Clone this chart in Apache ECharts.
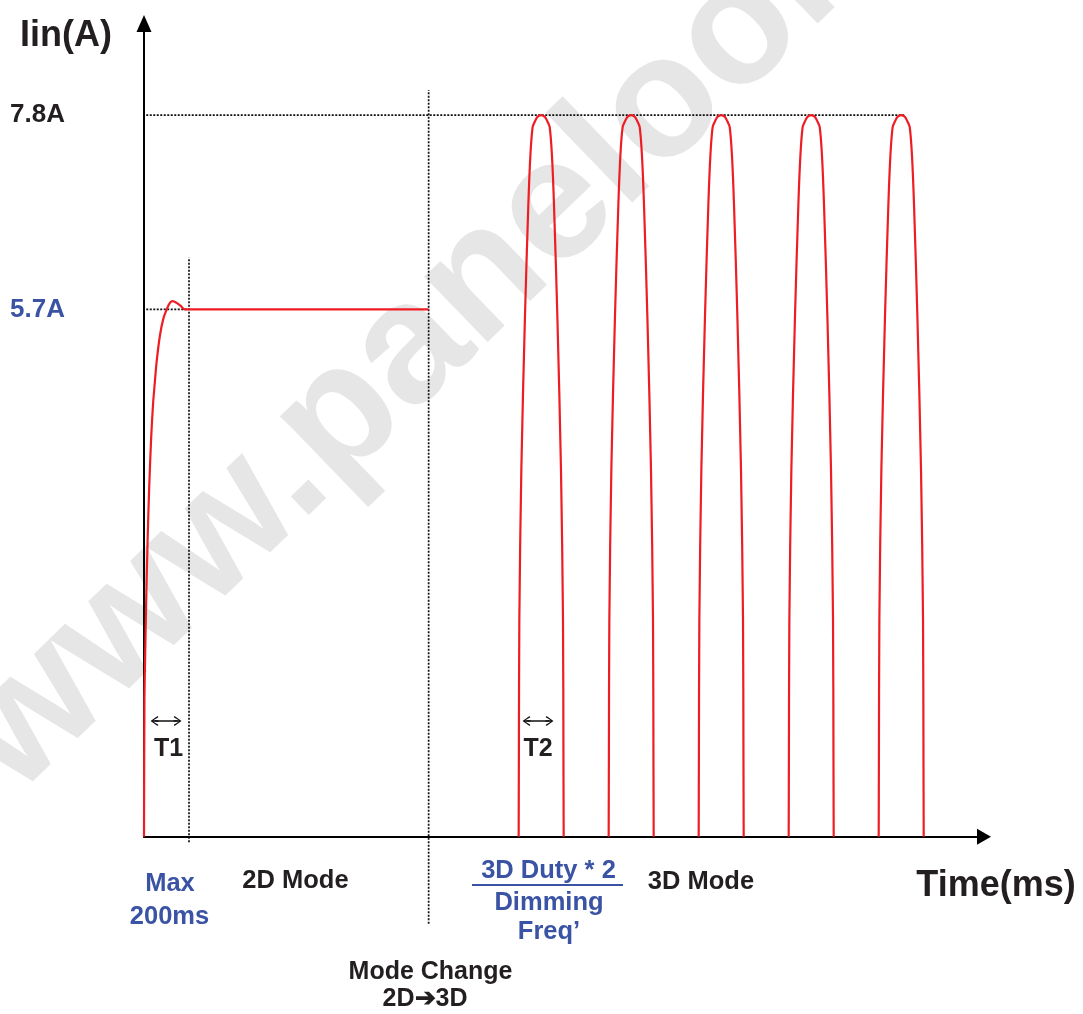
<!DOCTYPE html>
<html>
<head>
<meta charset="utf-8">
<script src="https://cdn.jsdelivr.net/npm/echarts@6/dist/echarts.min.js"></script>
<style>
  html, body { margin: 0; padding: 0; background: #ffffff; }
  #chart { width: 1083px; height: 1014px; }
</style>
</head>
<body>
<div id="chart"></div>
<script>
// Input current (A) against time (ms) for a 2D -> 3D backlight mode change.

// 2D start-up: soft-start rise with a small overshoot, settling on the 2D level.
const riseTimes  = [0, 2, 5, 10, 16, 23, 32, 40, 46, 56, 71, 86, 101, 115, 128, 145, 162, 182, 200, 1265];
const riseAmps   = [0, 1.5, 1.94, 2.58, 3.2, 3.77, 4.32, 4.67, 4.85, 5.13, 5.42, 5.6, 5.70, 5.77, 5.79, 5.77, 5.74, 5.70, 5.70, 5.70];

// 3D mode: one pulse per dimming period (time offset inside the pulse, current).
const pulseStarts  = [1665, 2065, 2465, 2865, 3265];
const pulseOffsets = [0, 1, 3, 12, 28, 43, 52, 62, 72, 83, 100, 117, 128, 138, 148, 157, 172, 188, 197, 199, 200];
const pulseAmps    = [0, 0.86, 2.35, 3.98, 5.62, 6.83, 7.36, 7.67, 7.73, 7.78, 7.8, 7.78, 7.73, 7.67, 7.36, 6.83, 5.62, 3.98, 2.35, 0.86, 0];

// Current levels marked on the vertical axis.
const levelTicks  = [5.7, 7.8];
const level2D     = 5.7;
const level3DPeak = 7.8;

// Event times (ms).
const t1Time         = 200;   // max soft-start time
const modeChangeTime = 1265;  // 2D -> 3D switch
const peakGuideEnd   = 3382;

// Vertical extents of the dotted guides (A).
const t1Guide   = [-0.06, 6.26];
const modeGuide = [-0.94, 8.07];

// T1 / T2 span markers: [from ms, to ms, level A].
const t1Span = [47, 149, 1.25];
const t2Span = [1700, 1802, 1.25];

const RED = '#ee1d24';
const BLACK = '#231f20';
const BLUE = '#3a53a4';
const FONT = '"Liberation Sans", Arial, Helvetica, sans-serif';

// Build the red current trace: start-up curve, then each 3D pulse as its own segment.
const trace = riseTimes.map((t, i) => [t, riseAmps[i]]);
pulseStarts.forEach(start => {
  trace.push(null);
  pulseOffsets.forEach((o, i) => trace.push([start + o, pulseAmps[i]]));
});

const guide = [
  [10, level3DPeak], [peakGuideEnd, level3DPeak], null,
  [10, level2D], [t1Time, level2D], null,
  [t1Time, t1Guide[0]], [t1Time, t1Guide[1]], null,
  [modeChangeTime, modeGuide[0]], [modeChangeTime, modeGuide[1]]
];

// Open double-headed arrow tip (points "up" in symbol space; markLine rotates it).
const chevron = 'path://M5,0 L10,7 L8.8,7.8 L5.7,2.8 L5.7,8 L4.3,8 L4.3,2.8 L1.2,7.8 L0,7 Z';

function label(text, x, y, size, color, align) {
  return {
    type: 'text', x: x, y: y, z: 100,
    style: {
      text: text, fill: color,
      font: 'bold ' + size + 'px ' + FONT,
      align: align || 'center', verticalAlign: 'middle'
    }
  };
}

const chart = echarts.init(document.getElementById('chart'), null, { renderer: 'canvas' });

chart.setOption({
  animation: false,
  backgroundColor: '#ffffff',
  grid: { left: 144, right: 99, top: 23.5, bottom: 177.3, containLabel: false },
  xAxis: {
    type: 'value', min: 0, max: 3733,
    axisLine: { show: true, onZero: false, symbol: ['none', 'triangle'], symbolSize: [16, 14],
                lineStyle: { color: '#000', width: 2 } },
    axisTick: { show: false }, axisLabel: { show: false }, splitLine: { show: false }
  },
  yAxis: {
    type: 'value', min: 0, max: 8.79,
    axisLine: { show: true, onZero: false, symbol: ['none', 'triangle'], symbolSize: [15, 17],
                lineStyle: { color: '#000', width: 2 } },
    axisTick: { show: false },
    splitLine: { show: false },
    axisLabel: {
      show: true,
      customValues: levelTicks,
      formatter: v => v.toFixed(1) + 'A',
      color: v => (Math.abs(v - level2D) < 1e-6 ? BLUE : BLACK),
      fontSize: 26, fontWeight: 'bold', fontFamily: FONT,
      align: 'left', margin: 134
    }
  },
  series: [
    {
      name: 'guides', type: 'line', data: guide, clip: false,
      showSymbol: false, connectNulls: false, silent: true, z: 1,
      lineStyle: { color: '#111', width: 1.7, type: [2, 1.5] },
      markLine: {
        silent: true, symbol: [chevron, chevron], symbolSize: [10, 8],
        label: { show: false },
        lineStyle: { color: '#111', width: 1.5, type: 'solid' },
        data: [
          [{ coord: [t1Span[0], t1Span[2]] }, { coord: [t1Span[1], t1Span[2]] }],
          [{ coord: [t2Span[0], t2Span[2]] }, { coord: [t2Span[1], t2Span[2]] }]
        ]
      }
    },
    {
      name: 'Iin', type: 'line', data: trace, clip: false,
      showSymbol: false, connectNulls: false, silent: true, z: 3,
      smooth: 0.3,
      lineStyle: { color: RED, width: 2.2 }
    }
  ],
  graphic: [
    {
      type: 'text', x: 43, y: 825, rotation: 44 * Math.PI / 180, z: -1, silent: true,
      style: { text: 'www.panelook.com', fill: '#e6e6e6', font: 'bold 172px ' + FONT,
               align: 'left', verticalAlign: 'bottom' }
    },
    label('Iin(A)', 66, 36, 36, BLACK),
    label('Time(ms)', 996, 886, 36, BLACK),
    label('T1', 168.5, 749, 25, BLACK),
    label('T2', 538, 749, 25, BLACK),
    label('Max', 170, 884, 25.5, BLUE),
    label('200ms', 169.5, 917, 25.5, BLUE),
    label('2D Mode', 295.5, 881, 25.5, BLACK),
    label('3D Duty * 2', 548.5, 871, 25.5, BLUE),
    { type: 'line', z: 100, shape: { x1: 472, y1: 885, x2: 623, y2: 885 },
      style: { stroke: BLUE, lineWidth: 2 } },
    label('Dimming', 549, 903, 25.5, BLUE),
    label('Freq\u2019', 549, 932, 25.5, BLUE),
    label('3D Mode', 701, 882, 25.5, BLACK),
    label('Mode Change', 430.5, 972, 25, BLACK),
    label('2D\u27943D', 425, 999, 25, BLACK)
  ]
});
</script>
</body>
</html>
